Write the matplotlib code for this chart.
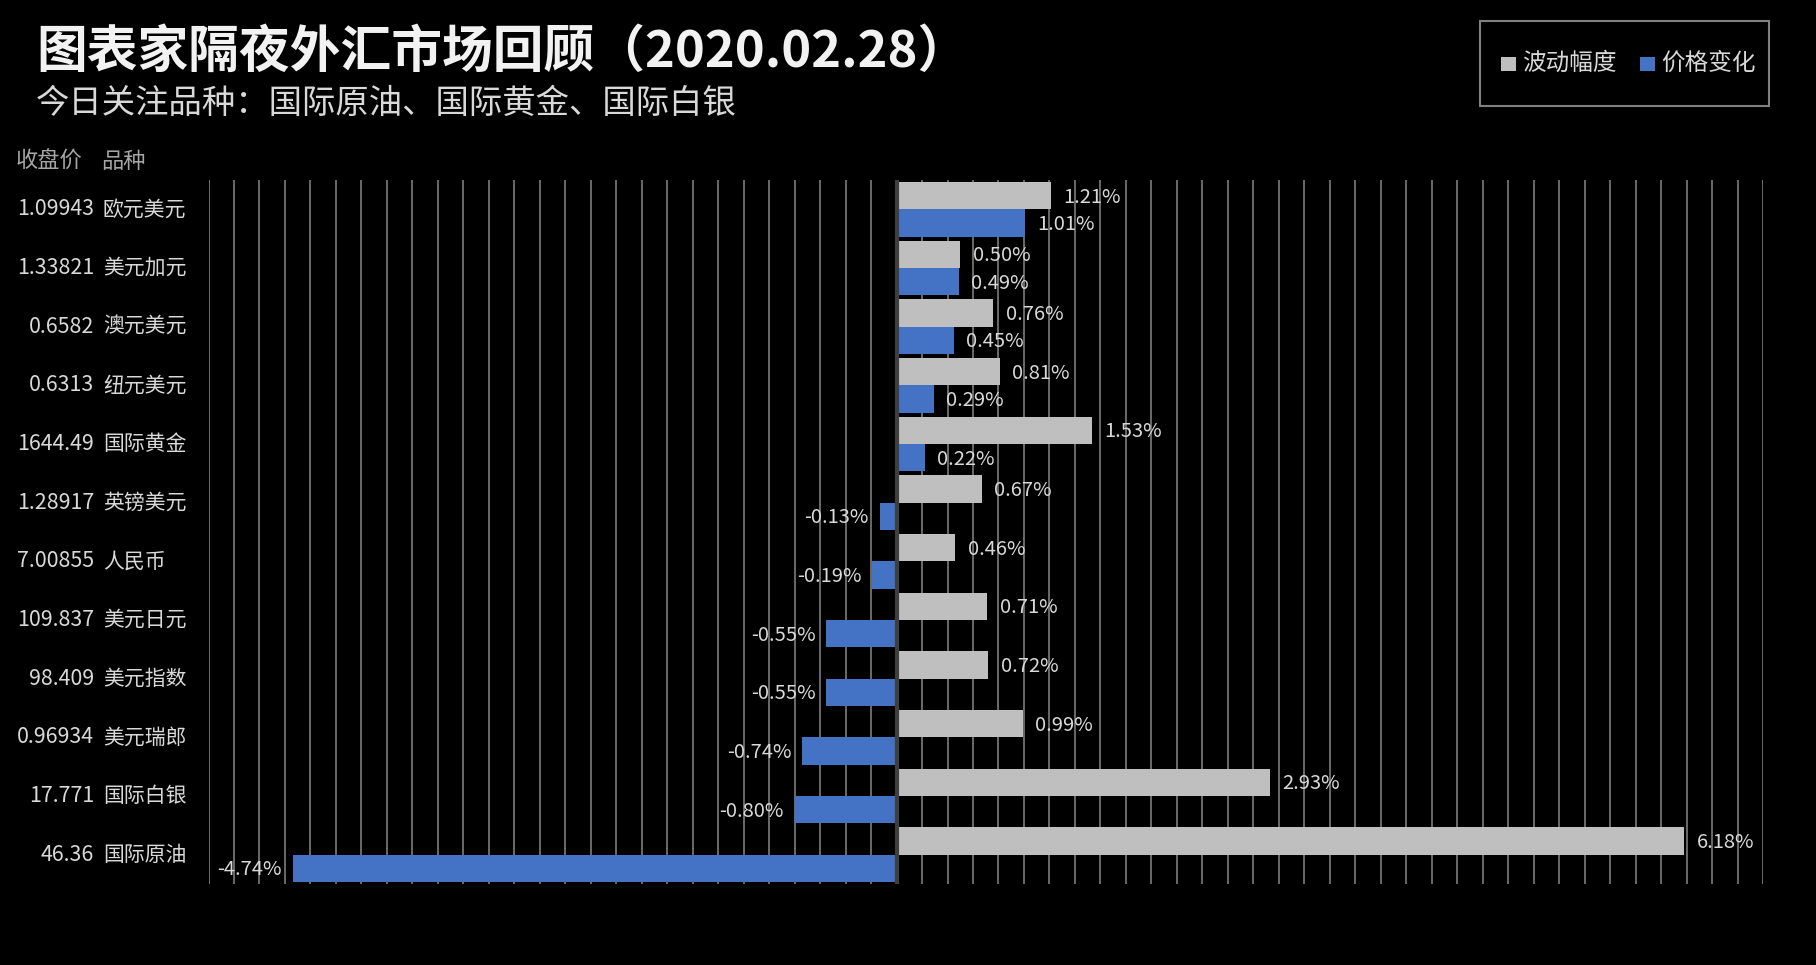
import matplotlib
matplotlib.use("Agg")
import matplotlib.pyplot as plt
import numpy as np
from matplotlib.transforms import blended_transform_factory
from matplotlib.patches import Rectangle

plt.rcParams['font.family'] = ['Noto Sans CJK SC', 'DejaVu Sans']

# ---- data ----
categories = ['欧元美元', '美元加元', '澳元美元', '纽元美元', '国际黄金', '英镑美元',
              '人民币', '美元日元', '美元指数', '美元瑞郎', '国际白银', '国际原油']
close_prices = ['1.09943', '1.33821', '0.6582', '0.6313', '1644.49', '1.28917',
                '7.00855', '109.837', '98.409', '0.96934', '17.771', '46.36']
volatility = [1.21, 0.50, 0.76, 0.81, 1.53, 0.67, 0.46, 0.71, 0.72, 0.99, 2.93, 6.18]
price_change = [1.01, 0.49, 0.45, 0.29, 0.22, -0.13, -0.19, -0.55, -0.55, -0.74, -0.80, -4.74]
series_names = ['波动幅度', '价格变化']

title = '图表家隔夜外汇市场回顾（2020.02.28）'
subtitle = '今日关注品种：国际原油、国际黄金、国际白银'

GRAY = '#bfbfbf'
BLUE = '#4472c4'
TXT = '#d9d9d9'

W, H = 1816, 965
fig = plt.figure(figsize=(W / 100, H / 100), dpi=100, facecolor='black')

def fx(px):
    return px / W

def fy(py):
    return 1 - py / H

ax = fig.add_axes([fx(208.5), fy(884), fx(1763) - fx(208.5), fy(180) - fy(884)])
ax.set_facecolor('black')

y = np.arange(len(categories))
bh = 0.465
ax.barh(y - bh / 2, volatility, height=bh, color=GRAY, zorder=2)
ax.barh(y + bh / 2, price_change, height=bh, color=BLUE, zorder=2)

ax.set_xlim(-5.4, 6.8)
ax.set_ylim(len(categories) - 0.5, -0.5)
ax.set_xticks(np.round(np.arange(-5.4, 6.81, 0.2), 2))
ax.set_xticklabels([])
ax.set_yticks([])
ax.tick_params(length=0)
ax.grid(axis='x', color='#6a6a6a', lw=1.4, zorder=0)
ax.set_axisbelow(True)
for s in ax.spines.values():
    s.set_visible(False)
ax.axvline(0, color='#3f3f3f', lw=3, zorder=3)

# data labels
for i, v in enumerate(volatility):
    ax.annotate(f'{v:.2f}%', (v, i - bh / 2), xytext=(9, -1), textcoords='offset points',
                ha='left', va='center', color=TXT, fontsize=14.5)
for i, v in enumerate(price_change):
    if v >= 0:
        ax.annotate(f'{v:.2f}%', (v, i + bh / 2), xytext=(9, -1), textcoords='offset points',
                    ha='left', va='center', color=TXT, fontsize=14.5)
    else:
        ax.annotate(f'{v:.2f}%', (v, i + bh / 2), xytext=(-8, -1), textcoords='offset points',
                    ha='right', va='center', color=TXT, fontsize=14.5)

# category labels
tr = blended_transform_factory(fig.transFigure, ax.transData)
for i, (p, c) in enumerate(zip(close_prices, categories)):
    fig.text(fx(94), i, p, transform=tr, ha='right', va='center', color=TXT, fontsize=15.4)
    fig.text(fx(103), i, c, transform=tr, ha='left', va='center', color=TXT, fontsize=15)

# header
fig.text(fx(16), fy(161), '收盘价', ha='left', va='center', color='#a6a6a6', fontsize=16)
fig.text(fx(101), fy(161), '品种', ha='left', va='center', color='#a6a6a6', fontsize=16)

# titles
fig.text(fx(36), fy(52), title, ha='left', va='center', color='#f2f2f2',
         fontsize=36.5, fontweight='heavy')
fig.text(fx(36), fy(103), subtitle, ha='left', va='center', color=TXT, fontsize=24)

# legend
fig.patches.append(Rectangle((fx(1480), fy(106)), fx(1769) - fx(1480), fy(21) - fy(106),
                             transform=fig.transFigure, facecolor='black',
                             edgecolor='#808080', lw=1.5))
for sx, tx, col, name in [(1501, 1522, GRAY, series_names[0]), (1640, 1661, BLUE, series_names[1])]:
    fig.patches.append(Rectangle((fx(sx), fy(71)), fx(15), fy(57) - fy(71),
                                 transform=fig.transFigure, facecolor=col, edgecolor='none'))
    fig.text(fx(tx), fy(63), name, ha='left', va='center', color=TXT, fontsize=17)

fig.savefig('out.png', dpi=100, facecolor='black')
